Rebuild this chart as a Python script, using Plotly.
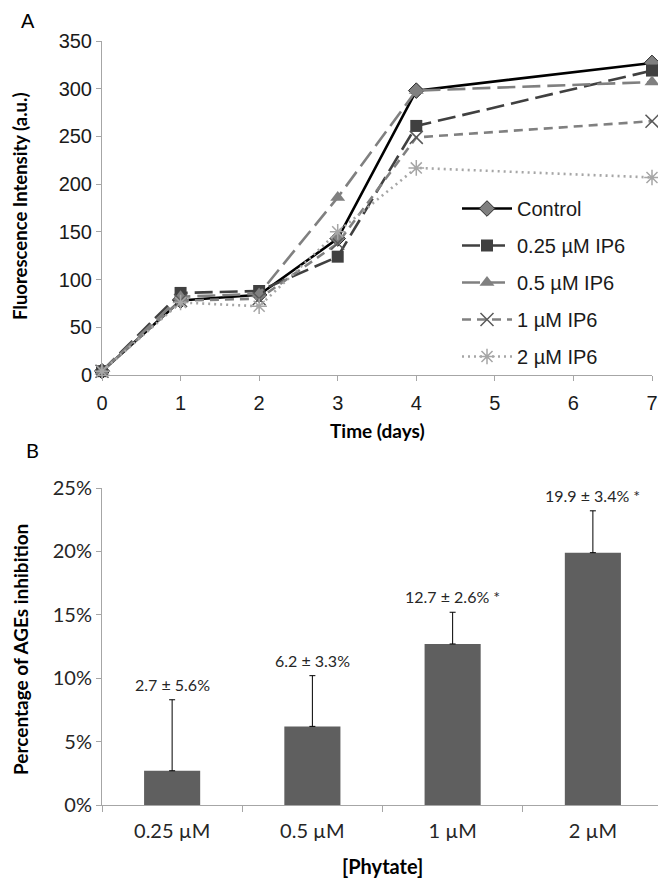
import plotly.graph_objects as go

# ---------------- Data ----------------
days = [0, 1, 2, 3, 4, 7]
control = [4, 78, 84, 143, 298, 327]
ip6_025 = [4, 86, 88, 124, 261, 319]
ip6_05 = [4, 82, 85, 186, 298, 307]
ip6_1 = [4, 78, 80, 138, 249, 266]
ip6_2 = [4, 76, 72, 150, 217, 207]
series_names = ["Control", "0.25 µM IP6", "0.5 µM IP6", "1 µM IP6", "2 µM IP6"]

phytate = ["0.25 µM", "0.5 µM", "1 µM", "2 µM"]
inhibition = [2.7, 6.2, 12.7, 19.9]
inhibition_err = [5.6, 4.0, 2.5, 3.3]
bar_labels = ["2.7 ± 5.6%", "6.2 ± 3.3%", "12.7 ± 2.6% *", "19.9 ± 3.4% *"]

# page is 666x882; the html body adds an 8px margin, so the figure is drawn 8px in
OFF = 8
W, H = 666 - OFF, 882 - OFF
def px(x):
    return (x - OFF) / W
def py(y):
    return 1 - (y - OFF) / H

fig = go.Figure()

styles = [
    dict(color="#000000", dash="solid", symbol="diamond", mcolor="#7f7f7f", msize=12, mline=dict(color="#262626", width=1)),
    dict(color="#404040", dash="18px,7px", symbol="square", mcolor="#404040", msize=12, mline=dict(color="#404040", width=0)),
    dict(color="#808080", dash="18px,7px", symbol="triangle-up", mcolor="#808080", msize=13, mline=dict(color="#808080", width=0)),
    dict(color="#808080", dash="9px,6px", symbol="x-thin", mcolor="#595959", msize=13, mline=dict(color="#595959", width=1.5)),
    dict(color="#a6a6a6", dash="2px,4px", symbol="asterisk", mcolor="#a6a6a6", msize=13, mline=dict(color="#a6a6a6", width=1.5)),
]
data_series = [control, ip6_025, ip6_05, ip6_1, ip6_2]

for i, (name, vals, st) in enumerate(zip(series_names, data_series, styles)):
    fig.add_trace(go.Scatter(
        x=days, y=vals, name=name, mode="lines+markers",
        xaxis="x", yaxis="y", legendgroup=f"g{i}",
        cliponaxis=False,
        line=dict(color=st["color"], width=2.6, dash=st["dash"]),
        marker=dict(symbol=st["symbol"], color=st["mcolor"], size=st["msize"], line=st["mline"]),
    ))

fig.add_trace(go.Bar(
    x=phytate, y=inhibition, xaxis="x2", yaxis="y2", showlegend=False,
    width=0.4, marker=dict(color="#5f5f5f", line=dict(width=0)),
    error_y=dict(type="data", symmetric=False, array=inhibition_err,
                 arrayminus=[0] * len(inhibition), color="#000000", thickness=1, width=3),
))

axis_gray = "#a6a6a6"
fontA = "Liberation Sans, Arial, sans-serif"
fontB = "Lato, Open Sans, sans-serif"

annotations = []
for cat, v, e, t in zip(phytate, inhibition, inhibition_err, bar_labels):
    annotations.append(dict(
        x=cat, y=v + e, xref="x2", yref="y2", text=t, showarrow=False,
        xanchor="center", yanchor="bottom", yshift=4,
        font=dict(family=fontB, size=16, color="#262626"),
    ))

def label(x, y, text, size, family, angle=0):
    return dict(x=px(x), y=py(y), xref="paper", yref="paper", text=text, showarrow=False,
                xanchor="center", yanchor="middle", textangle=angle,
                font=dict(family=family, size=size, color="#000000"))

annotations += [
    label(28, 21, "A", 20, fontA),
    label(32, 450, "B", 20, fontB),
    label(20, 206, "<b>Fluorescence Intensity (a.u.)</b>", 18.5, fontB, -90),
    label(377, 430, "<b>Time (days)</b>", 19, fontB),
    label(20, 650, "<b>Percentage of AGEs inhibition</b>", 19, fontB, -90),
    label(382, 866, "<b>[Phytate]</b>", 20, fontB),
]

common_axis = dict(showline=True, linecolor=axis_gray, linewidth=1, ticks="outside",
                   tickcolor=axis_gray, showgrid=False, zeroline=False, automargin=False,
                   ticklabeloverflow="allow")

fig.update_layout(
    template="none",
    width=W, height=H,
    margin=dict(l=0, r=0, t=0, b=0, pad=0),
    paper_bgcolor="white", plot_bgcolor="white",
    showlegend=True,
    legend=dict(x=px(457), y=py(189), xanchor="left", yanchor="top",
                font=dict(family=fontA, size=20, color="#1a1a1a"),
                tracegroupgap=8, bgcolor="rgba(255,255,255,0)", itemwidth=50),
    xaxis=dict(domain=[px(102), px(652)], range=[0, 7], tickvals=list(range(8)),
               ticklen=5, ticklabelstandoff=5,
               tickfont=dict(family=fontA, size=20, color="#1a1a1a"),
               anchor="y", **common_axis),
    yaxis=dict(domain=[py(375), py(41)], range=[0, 350], dtick=50,
               ticklen=5, tickfont=dict(family=fontA, size=20, color="#1a1a1a"),
               anchor="x", **common_axis),
    xaxis2=dict(domain=[px(102), px(663)], range=[-0.5, 3.5], type="category",
                tickson="boundaries", ticklen=6, ticklabelstandoff=8,
                tickfont=dict(family=fontB, size=20, color="#262626"),
                anchor="y2", **common_axis),
    yaxis2=dict(domain=[py(805), py(488)], range=[0, 25], dtick=5, ticksuffix="%",
                ticklen=5, tickfont=dict(family=fontB, size=20, color="#262626"),
                anchor="x2", **common_axis),
    annotations=annotations,
)

fig.write_html("out.html")
